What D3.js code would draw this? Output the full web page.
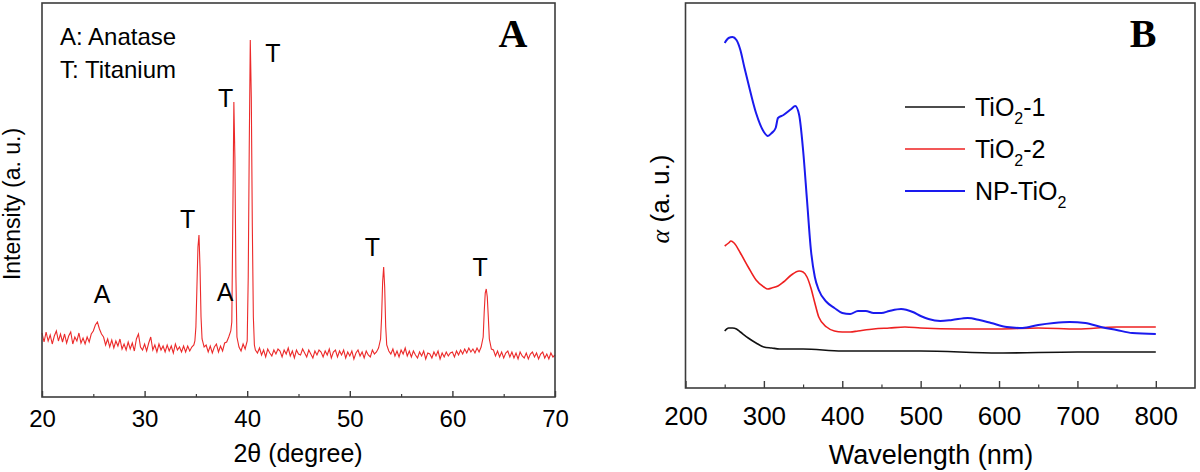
<!DOCTYPE html>
<html>
<head>
<meta charset="utf-8">
<script src="https://cdn.jsdelivr.net/npm/d3@7"></script>
<style>
  body { margin: 0; background: #fff; }
  text { font-family: "Liberation Sans", Arial, sans-serif; fill: #000; }
</style>
</head>
<body>
<div id="chart"></div>
<script>
// ---- panel A: XRD pattern, [2theta, intensity (a.u.)]
const xrdPoints = [
  [20.0,64],[20.2,55],[20.4,65],[20.6,56],[20.8,62],[21.0,53],[21.2,61],[21.4,66],[21.6,56],[21.8,63],
  [22.0,55],[22.2,63],[22.4,54],[22.6,61],[22.8,65],[23.0,53],[23.2,60],[23.4,56],[23.6,64],[23.8,54],
  [24.0,59],[24.2,53],[24.4,60],[24.6,55],[24.8,63],[25.0,66],[25.2,72],[25.4,75],[25.6,68],[25.8,63],
  [26.0,60],[26.2,52],[26.4,58],[26.6,50],[26.8,57],[27.0,49],[27.2,56],[27.4,51],[27.6,58],[27.8,48],
  [28.0,53],[28.2,47],[28.4,55],[28.6,48],[28.8,54],[29.0,46],[29.2,58],[29.4,63],[29.6,50],[29.8,47],
  [30.0,53],[30.2,46],[30.4,54],[30.6,60],[30.8,47],[31.0,52],[31.2,45],[31.4,53],[31.6,47],[31.8,51],
  [32.0,45],[32.2,52],[32.4,46],[32.6,51],[32.8,44],[33.0,53],[33.2,47],[33.4,50],[33.6,45],[33.8,51],
  [34.0,45],[34.2,51],[34.4,46],[34.6,50],[34.8,52],[34.9,56],[35.0,70],[35.1,110],[35.2,150],[35.3,162],
  [35.4,130],[35.5,80],[35.6,58],[35.8,50],
  [36.0,52],[36.2,45],[36.4,51],[36.6,44],[36.8,50],[37.0,53],[37.2,45],[37.4,51],[37.6,46],[37.8,54],
  [38.0,55],[38.2,60],[38.4,66],[38.5,75],[38.6,180],[38.7,295],[38.8,240],[38.9,120],[39.0,60],[39.2,50],
  [39.4,46],[39.6,53],[39.8,48],[40.0,56],[40.1,120],[40.2,250],[40.3,357],[40.4,300],[40.5,170],[40.6,80],
  [40.7,52],[40.8,47],[41.0,44],
  [41.2,49],[41.4,42],[41.6,47],[41.8,40],[42.0,48],[42.2,44],[42.4,41],[42.6,47],[42.8,43],[43.0,48],
  [43.2,46],[43.4,40],[43.6,47],[43.8,43],[44.0,49],[44.2,41],[44.4,46],[44.6,39],[44.8,47],[45.0,43],
  [45.2,42],[45.4,48],[45.6,44],[45.8,40],[46.0,47],[46.2,43],[46.4,39],[46.6,46],[46.8,42],[47.0,47],
  [47.2,45],[47.4,40],[47.6,46],[47.8,42],[48.0,48],[48.2,39],[48.4,45],[48.6,47],[48.8,40],[49.0,46],
  [49.2,42],[49.4,47],[49.6,39],[49.8,45],[50.0,41],[50.2,46],[50.4,38],[50.6,44],[50.8,47],[51.0,41],
  [51.2,45],[51.4,39],[51.6,46],[51.8,42],[52.0,40],[52.2,47],[52.4,43],[52.6,45],[52.8,49],[53.0,58],
  [53.1,80],[53.2,115],[53.3,130],[53.4,110],[53.5,70],[53.6,52],[53.8,46],
  [54.0,43],[54.2,48],[54.4,41],[54.6,46],[54.8,40],[55.0,47],[55.2,43],[55.4,49],[55.6,41],[55.8,46],
  [56.0,40],[56.2,46],[56.4,42],[56.6,39],[56.8,45],[57.0,41],[57.2,46],[57.4,38],[57.6,44],[57.8,43],
  [58.0,39],[58.2,45],[58.4,41],[58.6,46],[58.8,38],[59.0,44],[59.2,40],[59.4,45],[59.6,41],[59.8,44],
  [60.0,45],[60.2,40],[60.4,46],[60.6,42],[60.8,47],[61.0,43],[61.2,48],[61.4,44],[61.6,49],[61.8,45],
  [62.0,48],[62.2,44],[62.4,49],[62.6,45],[62.8,50],[63.0,60],[63.1,85],[63.2,104],[63.3,108],[63.4,100],
  [63.5,80],[63.6,58],[63.8,48],
  [64.0,47],[64.2,41],[64.4,46],[64.6,40],[64.8,45],[65.0,39],[65.2,44],[65.4,46],[65.6,40],[65.8,45],
  [66.0,39],[66.2,44],[66.4,38],[66.6,45],[66.8,41],[67.0,39],[67.2,44],[67.4,38],[67.6,43],[67.8,45],
  [68.0,40],[68.2,44],[68.4,38],[68.6,43],[68.8,45],[69.0,39],[69.2,43],[69.4,38],[69.6,44],[69.8,40],[70.0,42]
];

// peak markers: [letter, 2theta, height]
const xrdMarks = [
  ["A", 25.85, 94], ["T", 34.2, 169], ["T", 37.9, 290], ["A", 37.85, 96],
  ["T", 42.5, 335], ["T", 52.2, 141], ["T", 62.7, 121]
];
const xrdKey = ["A: Anatase", "T: Titanium"];
const xrdMajorTicks = [20, 30, 40, 50, 60, 70];
const xrdMinorTicks = [25, 35, 45, 55, 65];

// ---- panel B: absorption, [wavelength nm, alpha (a.u.)]
const tio2One = [
  [250,57],[255,60],[260,60],[265,59],[270,56],[280,50],[290,45],[300,41],[310,40],[320,39],
  [350,39],[400,37],[500,37],[600,35],[700,36],[800,36]
];
const tio2Two = [
  [250,142],[255,145],[258,147],[262,145],[270,135],[280,121],[290,108],[300,101],[305,99],[310,100],
  [318,102],[325,106],[335,113],[345,117],[350,116],[355,111],[360,100],[365,85],[370,71],[380,61],
  [390,57],[400,56],[410,56],[420,57],[440,59],[460,60],[480,61],[500,60],[550,59],[600,59],
  [650,60],[700,59],[750,61],[800,61]
];
const npTio2 = [
  [250,345],[255,350],[260,351],[265,348],[270,338],[275,321],[280,305],[290,275],[300,256],[305,252],
  [310,255],[315,260],[318,270],[325,273],[335,279],[340,282],[345,273],[350,238],[355,188],[360,138],
  [365,111],[370,98],[380,86],[390,80],[400,75],[410,74],[420,77],[430,77],[440,75],[450,75],
  [460,77],[475,79],[490,76],[500,72],[510,69],[525,67],[540,68],[560,70],[575,68],[590,65],
  [610,61],[630,60],[650,63],[670,65],[690,66],[710,65],[730,61],[750,58],[770,55],[800,54]
];
const uvSeries = [
  { name: "TiO", sub: "2", tail: "-1", color: "#111111", width: 1.6, values: tio2One },
  { name: "TiO", sub: "2", tail: "-2", color: "#ee2020", width: 1.6, values: tio2Two },
  { name: "NP-TiO", sub: "2", tail: "", color: "#1a1aee", width: 2, values: npTio2 }
];
const uvMajorTicks = [200, 300, 400, 500, 600, 700, 800];
const uvMinorTicks = [250, 350, 450, 550, 650, 750];

const width = 1200, height = 472;

const svg = d3.select("#chart").append("svg")
  .attr("width", width)
  .attr("height", height);

function frame(g, x0, y0, x1, y1) {
  g.append("rect")
    .attr("x", x0).attr("y", y0)
    .attr("width", x1 - x0).attr("height", y1 - y0)
    .attr("fill", "none")
    .attr("stroke", "#3c3c3c")
    .attr("stroke-width", 1.6);
}

function ticks(g, scale, y, major, minor, len, fontSize, pad) {
  const ax = g.append("g").attr("transform", `translate(0 ${y})`)
    .call(d3.axisBottom(scale).tickValues(major).tickSize(-len).tickPadding(pad));
  ax.select(".domain").remove();
  ax.selectAll("line").attr("stroke", "#3c3c3c").attr("stroke-width", 1.4);
  ax.selectAll("text").style("font-size", fontSize + "px").attr("fill", "#000")
    .style("font-family", '"Liberation Sans", Arial, sans-serif');
  const mi = g.append("g").attr("transform", `translate(0 ${y})`)
    .call(d3.axisBottom(scale).tickValues(minor).tickSize(-len / 2).tickFormat(""));
  mi.select(".domain").remove();
  mi.selectAll("line").attr("stroke", "#3c3c3c").attr("stroke-width", 1.2);
}

// ---------- panel A
const xA = d3.scaleLinear().domain([20, 70]).range([42, 555]);
const yA = d3.scaleLinear().domain([0, 394]).range([397, 3]);
const gA = svg.append("g");

gA.append("path")
  .datum(xrdPoints)
  .attr("fill", "none")
  .attr("stroke", "#ec2a2a")
  .attr("stroke-width", 1.1)
  .attr("d", d3.line().x(d => xA(d[0])).y(d => yA(d[1])));

frame(gA, 42, 3, 555, 397);
ticks(gA, xA, 397, xrdMajorTicks, xrdMinorTicks, 6, 24, 13);

gA.selectAll(".mark")
  .data(xrdMarks)
  .enter()
  .append("text")
  .attr("class", "mark")
  .attr("x", d => xA(d[1]))
  .attr("y", d => yA(d[2]))
  .attr("text-anchor", "middle")
  .style("font-size", "25px")
  .text(d => d[0]);

gA.selectAll(".key")
  .data(xrdKey)
  .enter()
  .append("text")
  .attr("class", "key")
  .attr("x", 60)
  .attr("y", (d, i) => 45 + i * 33)
  .style("font-size", "24px")
  .text(d => d);

gA.append("text")
  .attr("x", 298).attr("y", 462)
  .attr("text-anchor", "middle")
  .style("font-size", "25px")
  .text("2θ (degree)");

gA.append("text")
  .attr("transform", "translate(20 204) rotate(-90)")
  .attr("text-anchor", "middle")
  .style("font-size", "23px")
  .text("Intensity (a. u.)");

gA.append("text")
  .attr("x", 513).attr("y", 47)
  .attr("text-anchor", "middle")
  .style("font-family", '"Liberation Serif", "Times New Roman", serif')
  .style("font-weight", "bold")
  .style("font-size", "40px")
  .text("A");

// ---------- panel B
const xB = d3.scaleLinear().domain([200, 850]).range([685.5, 1195]);
const yB = d3.scaleLinear().domain([0, 385]).range([388, 3]);
const gB = svg.append("g");

const uvLine = d3.line()
  .curve(d3.curveMonotoneX)
  .x(d => xB(d[0]))
  .y(d => yB(d[1]));

gB.selectAll(".series")
  .data(uvSeries)
  .enter()
  .append("path")
  .attr("class", "series")
  .attr("fill", "none")
  .attr("stroke", d => d.color)
  .attr("stroke-width", d => d.width)
  .attr("d", d => uvLine(d.values));

frame(gB, 685.5, 3, 1195, 388);
ticks(gB, xB, 388, uvMajorTicks, uvMinorTicks, 7, 26, 19);

const legend = gB.selectAll(".legend")
  .data(uvSeries)
  .enter()
  .append("g")
  .attr("class", "legend")
  .attr("transform", (d, i) => `translate(905 ${107 + i * 42})`);

legend.append("line")
  .attr("x1", 0).attr("x2", 60)
  .attr("stroke", d => d.color)
  .attr("stroke-width", d => d.width);

const label = legend.append("text")
  .attr("x", 70)
  .attr("y", 9)
  .style("font-size", "25px");
label.append("tspan").text(d => d.name);
label.append("tspan").attr("dy", 8).style("font-size", "16px").text(d => d.sub);
label.append("tspan").attr("dy", -8).text(d => d.tail);

gB.append("text")
  .attr("x", 931).attr("y", 464)
  .attr("text-anchor", "middle")
  .style("font-size", "27px")
  .text("Wavelength (nm)");

const alphaLabel = gB.append("text")
  .attr("transform", "translate(669 199) rotate(-90)")
  .attr("text-anchor", "middle")
  .style("font-size", "26px");
alphaLabel.append("tspan")
  .style("font-family", '"Liberation Serif", "Times New Roman", serif')
  .style("font-style", "italic")
  .text("α");
alphaLabel.append("tspan").text(" (a. u.)");

gB.append("text")
  .attr("x", 1143).attr("y", 47)
  .attr("text-anchor", "middle")
  .style("font-family", '"Liberation Serif", "Times New Roman", serif')
  .style("font-weight", "bold")
  .style("font-size", "40px")
  .text("B");
</script>
</body>
</html>
